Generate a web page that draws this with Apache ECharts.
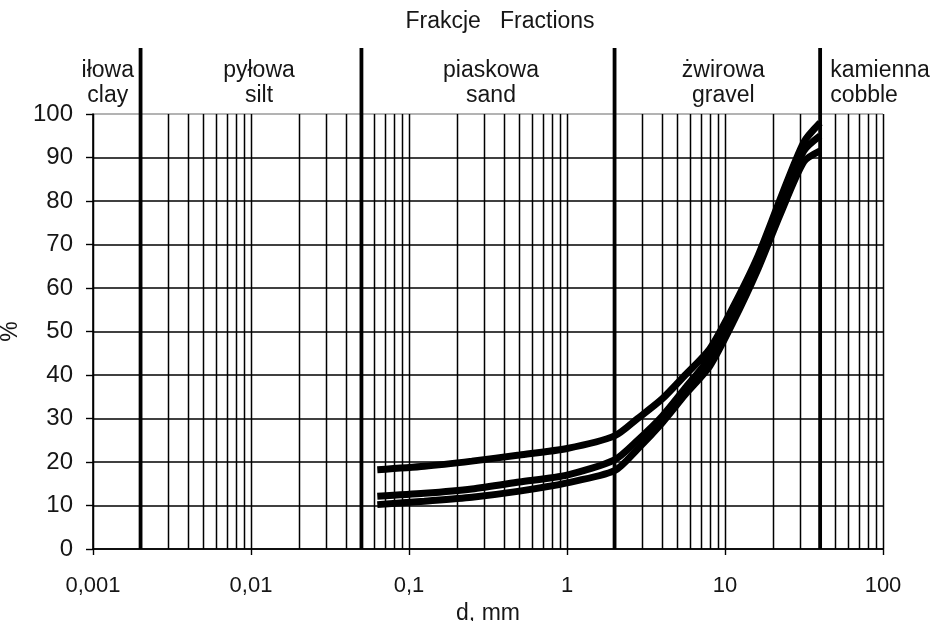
<!DOCTYPE html>
<html><head><meta charset="utf-8">
<script src="https://cdn.jsdelivr.net/npm/echarts@6/dist/echarts.min.js"></script>
<style>html,body{margin:0;padding:0;background:#fff}#c{width:935px;height:621px}</style>
</head><body><div id="c"></div>
<script>
// ---- data ----
const titleText = 'Frakcje   Fractions';
const fractionBounds = [0.001, 0.002, 0.05, 2, 40, 100];
const fractionPl = ['iłowa', 'pyłowa', 'piaskowa', 'żwirowa', 'kamienna'];
const fractionEn = ['clay', 'silt', 'sand', 'gravel', 'cobble'];
const xTickLabels = [0.001, 0.01, 0.1, 1, 10, 100];
const yTickLabels = [0, 10, 20, 30, 40, 50, 60, 70, 80, 90, 100];
const xAxisName = 'd, mm';
const yAxisName = '%';
const sieveSizes = [0.063, 0.125, 0.25, 0.5, 1, 2, 2.8, 4, 5.6, 8, 11.2, 16, 22.4, 31.5, 40];
const curveA = [18.2, 19.0, 20.2, 21.6, 23.1, 26.0, 30.0, 34.5, 40.0, 46.0, 55.5, 67.0, 80.5, 93.5, 98.0];
const curveB = [12.1, 12.8, 13.8, 15.4, 17.0, 20.5, 25.0, 30.5, 37.0, 44.0, 54.0, 65.5, 79.0, 91.5, 95.0];
const curveC = [10.2, 11.0, 11.9, 13.3, 15.2, 18.0, 23.0, 29.0, 35.5, 42.0, 52.0, 64.0, 77.0, 89.0, 91.5];

// ---- layout ----
const FONT = '"Liberation Sans", Arial, sans-serif';
const TXT = '#161616';
const chart = echarts.init(document.getElementById('c'), null, {renderer: 'canvas'});

// thin vertical grid lines at 1..9 x 10^k (log paper), excluding fraction boundaries
const gridXs = [];
for (let k = 0; k < xTickLabels.length - 1; k++) {
  for (let m = 1; m <= 9; m++) {
    const v = Number((m * xTickLabels[k]).toPrecision(6));
    if (fractionBounds.slice(1, -1).indexOf(v) < 0) gridXs.push(v);
  }
}
gridXs.push(xTickLabels[xTickLabels.length - 1]);

const splitColors = yTickLabels.map((v, i) => i === yTickLabels.length - 1 ? '#9a9a9a' : '#000');

function pairs(xs, ys) { return xs.map((x, i) => [x, ys[i]]); }
const curveStyle = {color: '#000', width: 7};

chart.setOption({
  animation: false,
  backgroundColor: '#fff',
  grid: {left: 93, right: 52, top: 114, bottom: 72, containLabel: false, outerBoundsMode: 'none'},
  xAxis: {
    type: 'log', logBase: 10,
    min: xTickLabels[0], max: xTickLabels[xTickLabels.length - 1],
    name: xAxisName, nameLocation: 'middle', nameGap: 42,
    nameTextStyle: {fontFamily: FONT, fontSize: 23, color: TXT},
    axisLine: {show: true, lineStyle: {color: '#000', width: 1.6}},
    axisTick: {show: true, length: 6, lineStyle: {color: '#000', width: 1.4}},
    axisLabel: {
      fontFamily: FONT, fontSize: 22, color: TXT, margin: 26,
      formatter: v => String(Number(Number(v).toPrecision(6))).replace('.', ',')
    },
    splitLine: {show: false},
    minorTick: {show: false}
  },
  yAxis: {
    type: 'value', min: yTickLabels[0], max: yTickLabels[yTickLabels.length - 1], interval: 10,
    name: yAxisName, nameLocation: 'middle', nameGap: 62, nameRotate: 90,
    nameTextStyle: {fontFamily: FONT, fontSize: 23, color: TXT},
    axisLine: {show: true, lineStyle: {color: '#000', width: 1.6}},
    axisTick: {show: true, length: 7, lineStyle: {color: '#000', width: 1.4}},
    axisLabel: {fontFamily: FONT, fontSize: 24, color: TXT, margin: 20},
    splitLine: {show: true, lineStyle: {color: splitColors, width: 1.5}}
  },
  series: [
    {type: 'line', name: 'A', data: pairs(sieveSizes, curveA), symbol: 'none', smooth: 0.25, lineStyle: curveStyle, z: 5},
    {type: 'line', name: 'B', data: pairs(sieveSizes, curveB), symbol: 'none', smooth: 0.25, lineStyle: curveStyle, z: 5},
    {type: 'line', name: 'C', data: pairs(sieveSizes, curveC), symbol: 'none', smooth: 0.25, lineStyle: curveStyle, z: 5}
  ]
});

// ---- grid lines, boundaries, fraction labels and title, positioned through the axis scales ----
const px = v => chart.convertToPixel({xAxisIndex: 0}, v);
const py = v => chart.convertToPixel({yAxisIndex: 0}, v);
const yBottom = py(yTickLabels[0]);
const yTop = py(yTickLabels[yTickLabels.length - 1]);
const topY = 48;
const labelNudge = [-9, 8, 3, 6, 0];
const g = [];
gridXs.forEach(v => {
  const x = Math.round(px(v)) + 0.5;
  g.push({type: 'line', z: 1, silent: true, shape: {x1: x, y1: yTop, x2: x, y2: yBottom}, style: {stroke: '#000', lineWidth: 1.5}});
});
fractionBounds.slice(1, -1).forEach(b => {
  const x = px(b);
  g.push({type: 'line', z: 2, silent: true, shape: {x1: x, y1: topY, x2: x, y2: yBottom}, style: {stroke: '#000', lineWidth: 3.8}});
});
for (let i = 0; i < fractionPl.length; i++) {
  const last = i === fractionPl.length - 1;
  const x = last ? px(fractionBounds[i]) + 10 : (px(fractionBounds[i]) + px(fractionBounds[i + 1])) / 2 + labelNudge[i];
  g.push({
    type: 'text', z: 3,
    style: {
      text: fractionPl[i] + '\n' + fractionEn[i], x: x, y: 83,
      align: last ? 'left' : 'center', verticalAlign: 'middle',
      font: '23px ' + FONT, lineHeight: 25, fill: TXT
    }
  });
}
g.push({
  type: 'text', z: 3,
  style: {text: titleText, x: 500, y: 22, align: 'center', verticalAlign: 'middle', font: '23px ' + FONT, fill: TXT}
});
chart.setOption({graphic: {elements: g}});
</script>
</body></html>
